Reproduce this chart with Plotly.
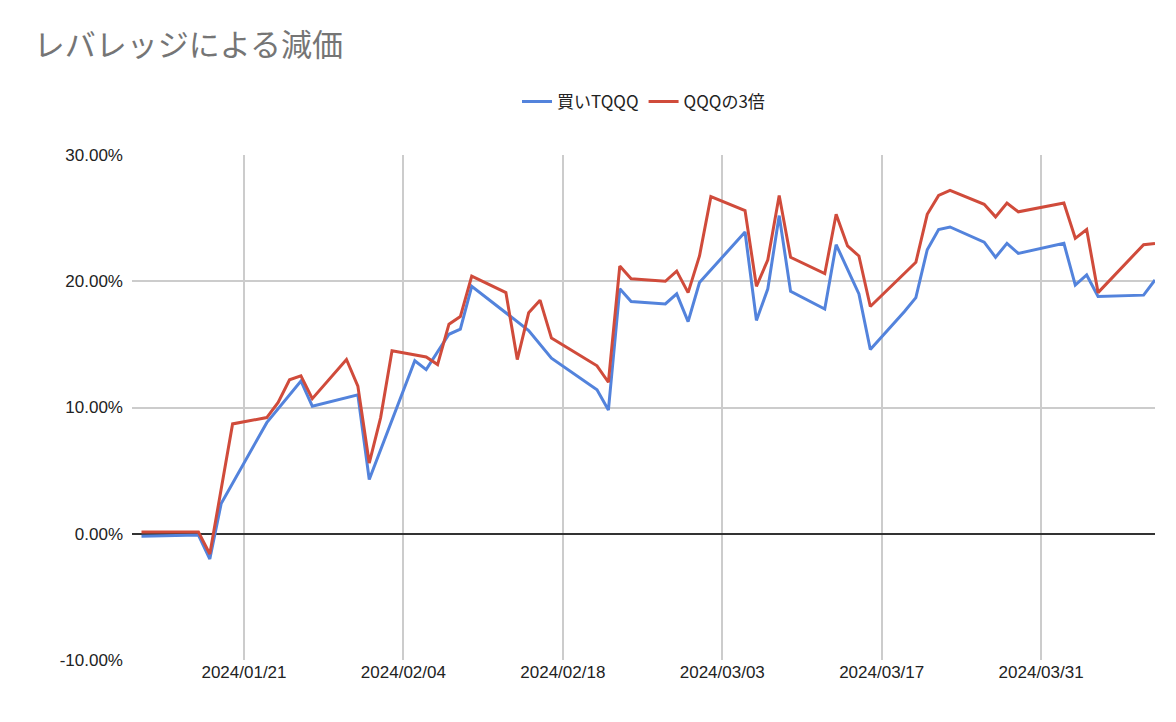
import plotly.graph_objects as go

blue_dates = ["2024-01-12","2024-01-17","2024-01-18","2024-01-19","2024-01-23","2024-01-26","2024-01-27",
              "2024-01-31","2024-02-01","2024-02-05","2024-02-06","2024-02-08","2024-02-09","2024-02-10",
              "2024-02-15","2024-02-17","2024-02-21","2024-02-22","2024-02-23","2024-02-24","2024-02-27",
              "2024-02-28","2024-02-29","2024-03-01","2024-03-05","2024-03-06","2024-03-07","2024-03-08",
              "2024-03-09","2024-03-12","2024-03-13","2024-03-15","2024-03-16","2024-03-19","2024-03-20",
              "2024-03-21","2024-03-22","2024-03-23","2024-03-26","2024-03-27","2024-03-28","2024-03-29",
              "2024-04-02","2024-04-03","2024-04-04","2024-04-05","2024-04-09","2024-04-10"]
blue_vals = [-0.2,-0.1,-2.0,2.4,8.8,12.1,10.1,
             11.0,4.3,13.7,13.0,15.8,16.2,19.6,
             16.1,13.9,11.4,9.8,19.4,18.4,18.2,
             19.0,16.8,19.9,23.9,16.9,19.4,25.2,
             19.2,17.8,22.9,19.0,14.6,17.6,18.7,
             22.5,24.1,24.3,23.1,21.9,23.0,22.2,
             23.0,19.7,20.5,18.8,18.9,20.1]

red_dates = ["2024-01-12","2024-01-17","2024-01-18","2024-01-20","2024-01-23","2024-01-24","2024-01-25",
             "2024-01-26","2024-01-27","2024-01-30","2024-01-31","2024-02-01","2024-02-02","2024-02-03",
             "2024-02-06","2024-02-07","2024-02-08","2024-02-09","2024-02-10","2024-02-13","2024-02-14",
             "2024-02-15","2024-02-16","2024-02-17","2024-02-21","2024-02-22","2024-02-23","2024-02-24",
             "2024-02-27","2024-02-28","2024-02-29","2024-03-01","2024-03-02","2024-03-05","2024-03-06",
             "2024-03-07","2024-03-08","2024-03-09","2024-03-12","2024-03-13","2024-03-14","2024-03-15",
             "2024-03-16","2024-03-20","2024-03-21","2024-03-22","2024-03-23","2024-03-26","2024-03-27",
             "2024-03-28","2024-03-29","2024-04-02","2024-04-03","2024-04-04","2024-04-05","2024-04-09",
             "2024-04-10"]
red_vals = [0.13,0.13,-1.6,8.7,9.2,10.4,12.2,
            12.5,10.7,13.8,11.7,5.6,9.2,14.5,
            14.0,13.4,16.6,17.2,20.4,19.1,13.8,
            17.5,18.5,15.5,13.3,12.0,21.2,20.2,
            20.0,20.8,19.1,22.0,26.7,25.6,19.6,
            21.7,26.8,21.9,20.6,25.3,22.8,22.0,
            18.0,21.5,25.3,26.8,27.2,26.1,25.1,
            26.2,25.5,26.2,23.4,24.1,19.1,22.9,
            23.0]

tick_dates = ["2024-01-21","2024-02-04","2024-02-18","2024-03-03","2024-03-17","2024-03-31"]
tick_labels = ["2024/01/21","2024/02/04","2024/02/18","2024/03/03","2024/03/17","2024/03/31"]
y_ticks = [-0.1, 0, 0.1, 0.2, 0.3]
y_labels = ["-10.00%", "0.00%", "10.00%", "20.00%", "30.00%"]

font = "Liberation Sans, Noto Sans CJK JP, Arial"
fig = go.Figure()
fig.add_trace(go.Scatter(x=blue_dates, y=[v/100 for v in blue_vals], mode="lines", name="買いTQQQ",
                         line=dict(color="#5383dc", width=3)))
fig.add_trace(go.Scatter(x=red_dates, y=[v/100 for v in red_vals], mode="lines", name="QQQの3倍",
                         line=dict(color="#d04b3b", width=3)))
fig.update_layout(
    width=1176, height=722, plot_bgcolor="white", paper_bgcolor="white",
    margin=dict(l=124, r=29, t=147, b=70),
    font=dict(family=font, size=17, color="#222"),
    title=dict(text="レバレッジによる減価", x=0.022, xanchor="left", y=0.948, yanchor="middle",
               font=dict(size=31, color="#757575", family="Noto Sans CJK JP")),
    legend=dict(orientation="h", x=0.5, xanchor="center", y=1.105, yanchor="middle",
                font=dict(size=17, family="Noto Sans CJK JP")),
    showlegend=True,
)
fig.update_xaxes(range=["2024-01-11 04:00", "2024-04-10"], tickvals=tick_dates, ticktext=tick_labels,
                 showgrid=True, gridcolor="#cccccc", gridwidth=1.5, showline=False, ticks="")
fig.update_yaxes(range=[-0.1, 0.3], tickvals=y_ticks, ticktext=y_labels,
                 showgrid=True, gridcolor="#cccccc", gridwidth=1.5, zeroline=True, zerolinecolor="#333",
                 zerolinewidth=1.5, ticks="", ticklabelstandoff=8)
fig.write_html("out.html")
